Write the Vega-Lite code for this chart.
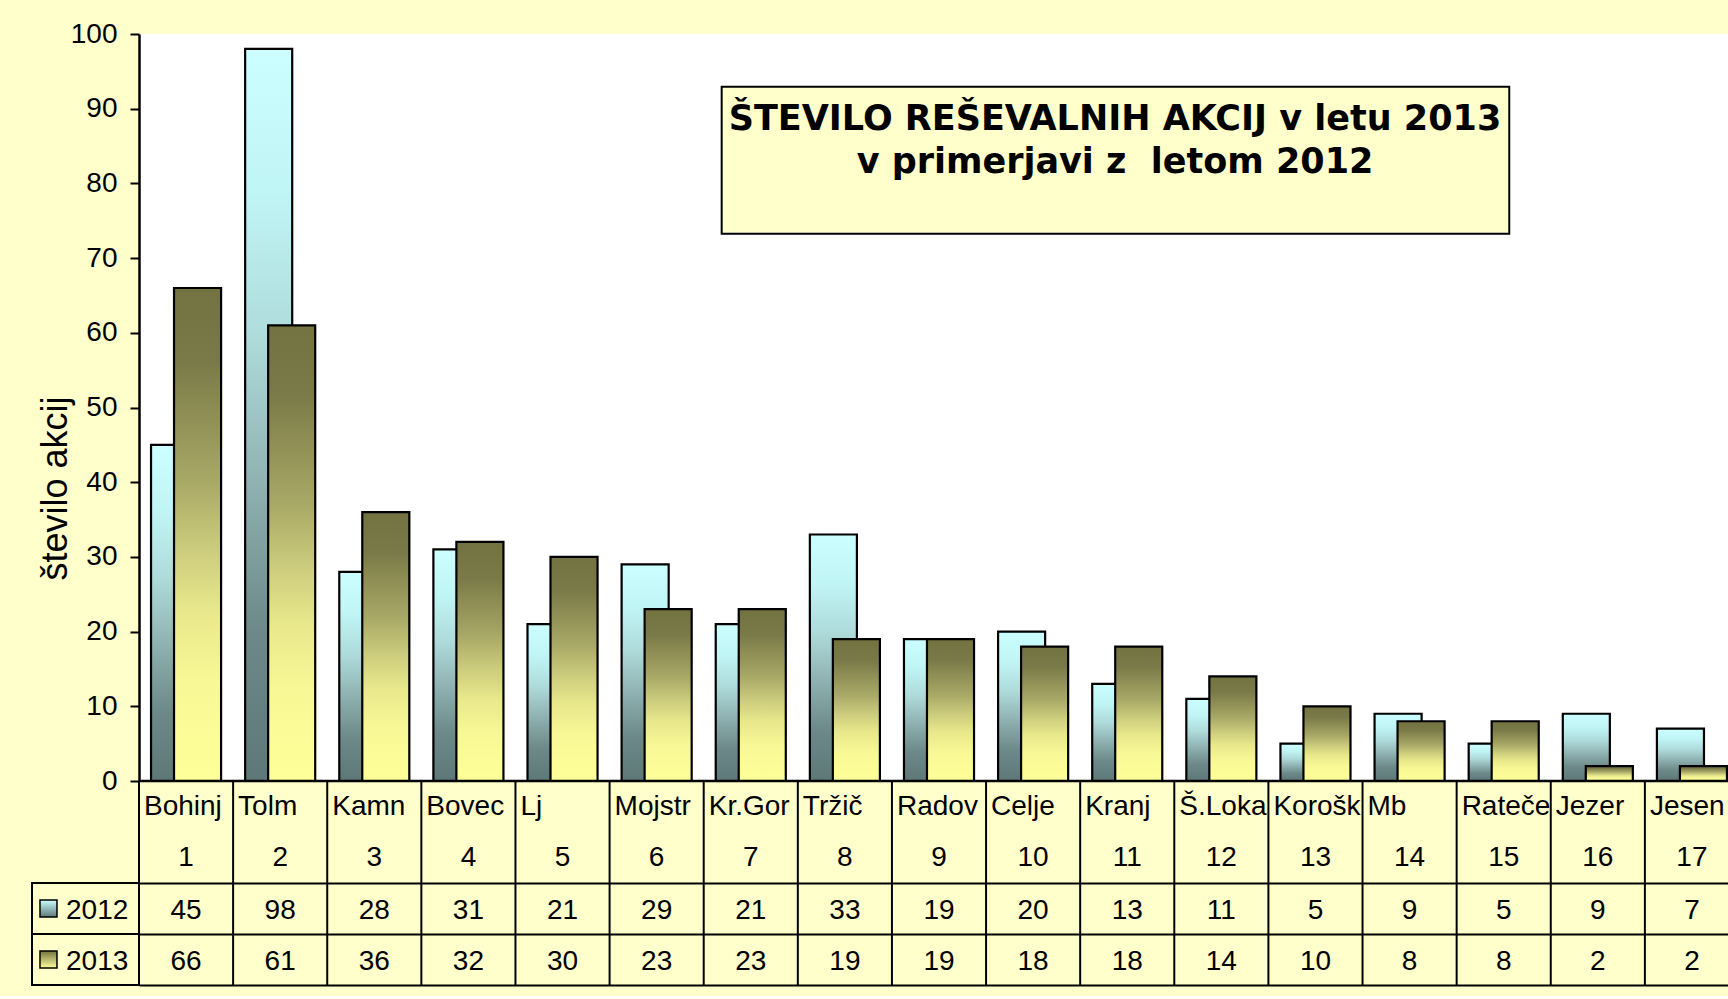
{
  "$schema": "https://vega.github.io/schema/vega-lite/v6.json",
  "background": "#FFFFCC",
  "padding": {"left": 31, "top": 20, "right": 0, "bottom": 10},
  "config": {
    "view": {"stroke": null},
    "font": "Liberation Sans",
    "text": {"font": "Liberation Sans", "fontSize": 28, "color": "black"}
  },
  "datasets": {
    "d": [
      {"nr": 1, "name": "Bohinj", "year": "2012", "value": 45},
      {"nr": 1, "name": "Bohinj", "year": "2013", "value": 66},
      {"nr": 2, "name": "Tolm", "year": "2012", "value": 98},
      {"nr": 2, "name": "Tolm", "year": "2013", "value": 61},
      {"nr": 3, "name": "Kamn", "year": "2012", "value": 28},
      {"nr": 3, "name": "Kamn", "year": "2013", "value": 36},
      {"nr": 4, "name": "Bovec", "year": "2012", "value": 31},
      {"nr": 4, "name": "Bovec", "year": "2013", "value": 32},
      {"nr": 5, "name": "Lj", "year": "2012", "value": 21},
      {"nr": 5, "name": "Lj", "year": "2013", "value": 30},
      {"nr": 6, "name": "Mojstr", "year": "2012", "value": 29},
      {"nr": 6, "name": "Mojstr", "year": "2013", "value": 23},
      {"nr": 7, "name": "Kr.Gora", "year": "2012", "value": 21},
      {"nr": 7, "name": "Kr.Gora", "year": "2013", "value": 23},
      {"nr": 8, "name": "Tržič", "year": "2012", "value": 33},
      {"nr": 8, "name": "Tržič", "year": "2013", "value": 19},
      {"nr": 9, "name": "Radov", "year": "2012", "value": 19},
      {"nr": 9, "name": "Radov", "year": "2013", "value": 19},
      {"nr": 10, "name": "Celje", "year": "2012", "value": 20},
      {"nr": 10, "name": "Celje", "year": "2013", "value": 18},
      {"nr": 11, "name": "Kranj", "year": "2012", "value": 13},
      {"nr": 11, "name": "Kranj", "year": "2013", "value": 18},
      {"nr": 12, "name": "Š.Loka", "year": "2012", "value": 11},
      {"nr": 12, "name": "Š.Loka", "year": "2013", "value": 14},
      {"nr": 13, "name": "Koroška", "year": "2012", "value": 5},
      {"nr": 13, "name": "Koroška", "year": "2013", "value": 10},
      {"nr": 14, "name": "Mb", "year": "2012", "value": 9},
      {"nr": 14, "name": "Mb", "year": "2013", "value": 8},
      {"nr": 15, "name": "Rateče", "year": "2012", "value": 5},
      {"nr": 15, "name": "Rateče", "year": "2013", "value": 8},
      {"nr": 16, "name": "Jezer", "year": "2012", "value": 9},
      {"nr": 16, "name": "Jezer", "year": "2013", "value": 2},
      {"nr": 17, "name": "Jesen", "year": "2012", "value": 7},
      {"nr": 17, "name": "Jesen", "year": "2013", "value": 2}
    ]
  },
  "spacing": 0,
  "bounds": "flush",
  "vconcat": [
    {
      "width": 1589,
      "height": 747,
      "view": {"fill": "white", "stroke": null},
      "layer": [
        {
          "data": {"name": "d"},
          "layer": [
            {
              "transform": [{"filter": "datum.year == '2012'"}],
              "mark": {
                "type": "bar",
                "width": {"band": 0.5},
                "xOffset": -11.5,
                "stroke": "black",
                "strokeWidth": 2.2,
                "color": {"gradient": "linear", "x1": 0, "y1": 0, "x2": 0, "y2": 1,
                  "stops": [
                    {"offset": 0, "color": "#CCFFFF"},
                    {"offset": 0.2, "color": "#C0F5F5"},
                    {"offset": 0.4, "color": "#AEDADA"},
                    {"offset": 0.6, "color": "#8EB0B0"},
                    {"offset": 0.8, "color": "#6C8888"},
                    {"offset": 1, "color": "#5E7878"}
                  ]}
              },
              "encoding": {
                "x": {"field": "nr", "type": "ordinal",
                  "scale": {"range": [0, 1600], "paddingInner": 0, "paddingOuter": 0},
                  "axis": null},
                "y": {"field": "value", "type": "quantitative",
                  "scale": {"domain": [0, 100], "nice": false},
                  "axis": {
                    "values": [0, 10, 20, 30, 40, 50, 60, 70, 80, 90, 100],
                    "grid": false,
                    "labelFont": "Liberation Sans",
                    "labelFontSize": 28,
                    "labelColor": "black",
                    "labelPadding": 13,
                    "tickSize": 9,
                    "tickWidth": 2,
                    "tickColor": "black",
                    "domainColor": "black",
                    "domainWidth": 2.5,
                    "title": "število akcij",
                    "titleFont": "Liberation Sans",
                    "titleFontSize": 36,
                    "titleFontWeight": "normal",
                    "titleColor": "black",
                    "titlePadding": -4,
                    "titleY": 454
                  }}
              }
            },
            {
              "transform": [{"filter": "datum.year == '2013'"}],
              "mark": {
                "type": "bar",
                "width": {"band": 0.5},
                "xOffset": 11.5,
                "stroke": "black",
                "strokeWidth": 2.2,
                "color": {"gradient": "linear", "x1": 0, "y1": 0, "x2": 0, "y2": 1,
                  "stops": [
                    {"offset": 0, "color": "#737341"},
                    {"offset": 0.15, "color": "#7A7A48"},
                    {"offset": 0.39, "color": "#A8A866"},
                    {"offset": 0.53, "color": "#CCCC7D"},
                    {"offset": 0.66, "color": "#E9E98C"},
                    {"offset": 0.8, "color": "#F8F896"},
                    {"offset": 1, "color": "#FFFF99"}
                  ]}
              },
              "encoding": {
                "x": {"field": "nr", "type": "ordinal"},
                "y": {"field": "value", "type": "quantitative"}
              }
            }
          ]
        },
        {
          "data": {"values": [{}]},
          "layer": [
            {
              "mark": {"type": "rect", "fill": "#FFFFCC", "stroke": "black", "strokeWidth": 2},
              "encoding": {
                "x": {"datum": 6.191, "type": "quantitative",
                  "scale": {"domain": [0, 17], "range": [0, 1600], "nice": false, "zero": false},
                  "axis": null},
                "x2": {"datum": 14.559},
                "y": {"datum": 92.95, "type": "quantitative",
                  "scale": {"domain": [0, 100], "nice": false, "zero": false},
                  "axis": null},
                "y2": {"datum": 73.27}
              }
            },
            {
              "mark": {
                "type": "text",
                "text": ["ŠTEVILO REŠEVALNIH AKCIJ v letu 2013", "v primerjavi z\u00a0 letom 2012"],
                "font": "DejaVu Sans",
                "fontWeight": "bold",
                "fontSize": 35,
                "lineHeight": 43,
                "align": "center",
                "baseline": "alphabetic",
                "color": "black"
              },
              "encoding": {
                "x": {"datum": 10.37, "type": "quantitative"},
                "y": {"datum": 87.15, "type": "quantitative"}
              }
            }
          ]
        }
      ],
      "resolve": {"scale": {"x": "independent", "y": "independent"}}
    },
    {
      "width": 1589,
      "height": 204,
      "data": {"name": "d"},
      "layer": [
        {
          "layer": [
            {
              "transform": [{"filter": "datum.year == '2012'"}],
              "mark": {"type": "rule", "color": "black", "strokeWidth": 2},
              "encoding": {
                "x": {"field": "nr", "type": "ordinal", "bandPosition": 0,
                  "scale": {"range": [0, 1600], "paddingInner": 0, "paddingOuter": 0},
                  "axis": null}
              }
            },
            {
              "transform": [{"filter": "datum.year == '2012' && datum.nr == 1"}],
              "mark": {"type": "rule", "color": "black", "strokeWidth": 2.5},
              "encoding": {
                "y": {"datum": "name", "type": "ordinal", "bandPosition": 0,
                  "scale": {"domain": ["name", "num", "2012", "2013"], "paddingInner": 0, "paddingOuter": 0},
                  "axis": {
                    "bandPosition": 1,
                    "labels": false,
                    "ticks": false,
                    "domain": false,
                    "title": null,
                    "grid": true,
                    "gridColor": "black",
                    "gridWidth": 2,
                    "gridOpacity": {"condition": {"test": "datum.value === 'name'", "value": 0}, "value": 1}
                  }}
              }
            },
            {
              "transform": [{"filter": "datum.year == '2012'"}],
              "mark": {"type": "text", "align": "left", "baseline": "middle", "dx": 5, "limit": 91, "ellipsis": "\u200b"},
              "encoding": {
                "x": {"field": "nr", "type": "ordinal", "bandPosition": 0},
                "y": {"datum": "name", "type": "ordinal"},
                "text": {"field": "name"}
              }
            },
            {
              "transform": [{"filter": "datum.year == '2012'"}],
              "mark": {"type": "text", "align": "center", "baseline": "middle"},
              "encoding": {
                "x": {"field": "nr", "type": "ordinal"},
                "y": {"datum": "num", "type": "ordinal"},
                "text": {"field": "nr"}
              }
            },
            {
              "mark": {"type": "text", "align": "center", "baseline": "middle", "dy": 2},
              "encoding": {
                "x": {"field": "nr", "type": "ordinal"},
                "y": {"field": "year", "type": "ordinal"},
                "text": {"field": "value"}
              }
            }
          ]
        },
        {
          "transform": [{"filter": "datum.nr == 1"}],
          "layer": [
            {
              "mark": {"type": "rect", "fill": "#FFFFCC", "stroke": "black", "strokeWidth": 2},
              "encoding": {
                "x": {"datum": "leg", "type": "nominal",
                  "scale": {"type": "band", "domain": ["leg"], "range": [-107, 0], "paddingInner": 0, "paddingOuter": 0},
                  "axis": null},
                "y": {"field": "year", "type": "ordinal"}
              }
            },
            {
              "transform": [{"filter": "datum.year == '2012'"}],
              "mark": {"type": "point", "shape": "square", "size": 289, "filled": true, "opacity": 1,
                "stroke": "black", "strokeWidth": 1.5,
                "color": {"gradient": "linear", "x1": 0, "y1": 0, "x2": 0, "y2": 1,
                  "stops": [{"offset": 0, "color": "#CCFFFF"}, {"offset": 1, "color": "#5E7878"}]}},
              "encoding": {
                "x": {"datum": "leg", "type": "nominal", "bandPosition": 0.154},
                "y": {"field": "year", "type": "ordinal"}
              }
            },
            {
              "transform": [{"filter": "datum.year == '2013'"}],
              "mark": {"type": "point", "shape": "square", "size": 289, "filled": true, "opacity": 1,
                "stroke": "black", "strokeWidth": 1.5,
                "color": {"gradient": "linear", "x1": 0, "y1": 0, "x2": 0, "y2": 1,
                  "stops": [{"offset": 0, "color": "#737341"}, {"offset": 1, "color": "#FFFF99"}]}},
              "encoding": {
                "x": {"datum": "leg", "type": "nominal", "bandPosition": 0.154},
                "y": {"field": "year", "type": "ordinal"}
              }
            },
            {
              "mark": {"type": "text", "align": "left", "baseline": "middle", "dy": 2},
              "encoding": {
                "x": {"datum": "leg", "type": "nominal", "bandPosition": 0.318},
                "y": {"field": "year", "type": "ordinal"},
                "text": {"field": "year"}
              }
            }
          ]
        }
      ],
      "resolve": {"scale": {"x": "independent"}}
    }
  ]
}
